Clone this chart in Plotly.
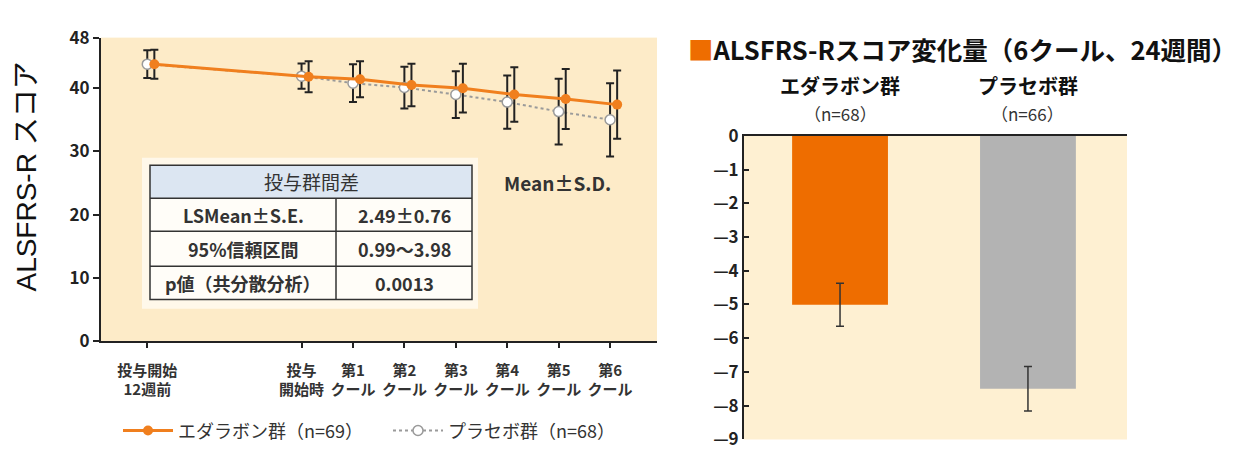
import plotly.graph_objects as go

# ---------------- data ----------------
weeks = [-12, 0, 4, 8, 12, 16, 20, 24]
tick_labels = ["投与開始<br>12週前", "投与<br>開始時", "第1<br>クール", "第2<br>クール",
               "第3<br>クール", "第4<br>クール", "第5<br>クール", "第6<br>クール"]
edaravone_mean = [43.8, 41.8, 41.4, 40.5, 40.0, 39.0, 38.3, 37.4]
edaravone_sd = [2.3, 2.45, 2.85, 3.35, 3.85, 4.3, 4.75, 5.4]
placebo_mean = [43.8, 41.9, 40.8, 40.1, 39.0, 37.8, 36.3, 35.0]
placebo_sd = [2.2, 2.0, 3.0, 3.3, 3.7, 4.2, 5.2, 5.8]
edaravone_name = "エダラボン群（n=69）"
placebo_name = "プラセボ群（n=68）"
y_ticks_left = [0, 10, 20, 30, 40, 48]

table_header = "投与群間差"
table_rows = ["LSMean±S.E.", "95%信頼区間", "p値（共分散分析）"]
table_values = ["2.49±0.76", "0.99〜3.98", "0.0013"]

groups = ["エダラボン群", "プラセボ群"]
group_n = ["（n=68）", "（n=66）"]
change_mean = [-5.01, -7.50]
change_se = [0.64, 0.66]
y_ticks_right = [0, -1, -2, -3, -4, -5, -6, -7, -8, -9]
y_ticktext_right = ["0"] + ["—%d" % abs(v) for v in y_ticks_right[1:]]

# ---------------- helpers ----------------
W, H = 1257, 455
def px(x):
    return x / W
def py(y):
    return 1 - y / H

FONT = "Noto Sans CJK JP"
DARK = "#222222"
ORANGE_LINE = "#F07F1E"
ORANGE_BAR = "#EE6D00"
GRAY_BAR = "#B3B3B3"
BG_LEFT = "#FDEBC8"
BG_RIGHT = "#FEF0D2"

ed_x = [w + 0.55 for w in weeks]

fig = go.Figure()

fig.add_trace(go.Scatter(
    x=weeks, y=placebo_mean, name=placebo_name, mode="lines+markers",
    line=dict(color="#9a9a9a", width=2, dash="dot"),
    marker=dict(size=10, color="white", line=dict(color="#9a9a9a", width=1.5)),
    error_y=dict(type="data", array=placebo_sd, color=DARK, thickness=2, width=4),
    legendrank=2, xaxis="x", yaxis="y", hoverinfo="skip"))

fig.add_trace(go.Scatter(
    x=ed_x, y=edaravone_mean, name=edaravone_name, mode="lines+markers",
    line=dict(color=ORANGE_LINE, width=3),
    marker=dict(size=10, color=ORANGE_LINE),
    error_y=dict(type="data", array=edaravone_sd, color=DARK, thickness=2, width=4),
    legendrank=1, xaxis="x", yaxis="y", hoverinfo="skip"))

fig.add_trace(go.Bar(
    x=[0, 1], y=change_mean, width=0.51,
    marker=dict(color=[ORANGE_BAR, GRAY_BAR], line=dict(width=0)),
    error_y=dict(type="data", array=change_se, color="#333333", thickness=1.5, width=4),
    showlegend=False, xaxis="x2", yaxis="y2", hoverinfo="skip"))

shapes = []
shapes.append(dict(type="rect", xref="paper", yref="paper", layer="below",
                   x0=px(744), x1=px(1127), y0=py(450), y1=py(129),
                   fillcolor=BG_RIGHT, line=dict(width=0)))
shapes.append(dict(type="rect", xref="paper", yref="paper", layer="below",
                   x0=px(142), x1=px(478), y0=py(312), y1=py(152),
                   fillcolor="#FFF8EA", line=dict(width=0)))
shapes.append(dict(type="rect", xref="paper", yref="paper", layer="below",
                   x0=px(150), x1=px(472), y0=py(195), y1=py(160),
                   fillcolor="#DCE6F2", line=dict(width=0)))
shapes.append(dict(type="rect", xref="paper", yref="paper", layer="below",
                   x0=px(150), x1=px(472), y0=py(302), y1=py(195),
                   fillcolor="#FFFDF8", line=dict(width=0)))
shapes.append(dict(type="rect", xref="paper", yref="paper",
                   x0=px(150), x1=px(472), y0=py(302), y1=py(160),
                   fillcolor="rgba(0,0,0,0)", line=dict(color="#333", width=1.5)))
for yy in [195, 230, 267]:
    shapes.append(dict(type="line", xref="paper", yref="paper",
                       x0=px(150), x1=px(472), y0=py(yy), y1=py(yy),
                       line=dict(color="#333", width=1.5)))
shapes.append(dict(type="line", xref="paper", yref="paper",
                   x0=px(336), x1=px(336), y0=py(195), y1=py(302),
                   line=dict(color="#333", width=1.5)))

def ann(x, y, text, size, color="#333", weight="normal", xref="paper", family=FONT,
        xanchor="center", textangle=0):
    return dict(xref=xref, yref="paper", x=x, y=y, text=text, showarrow=False,
                xanchor=xanchor, yanchor="middle", textangle=textangle,
                font=dict(family=family, size=size, color=color, weight=weight))

annotations = []
annotations.append(ann(px(311), py(177), table_header, 19, "#333"))
row_y = [212.5, 248.5, 284.5]
for lab, val, yy in zip(table_rows, table_values, row_y):
    annotations.append(ann(px(243), py(yy), lab, 18, "#333", "bold"))
    annotations.append(ann(px(404), py(yy), val, 18, "#333", "bold"))

annotations.append(ann(px(557), py(178), "Mean±S.D.", 19, "#333", "bold"))

annotations.append(ann(px(27), py(172), "ALSFRS-R スコア", 28, "#111",
                       family="Liberation Sans, " + FONT, textangle=-90))

annotations.append(ann(px(686), py(37),
                       '<span style="color:%s">■</span>ALSFRS-Rスコア変化量（6クール、24週間）' % ORANGE_BAR,
                       25.5, "#111", "bold", xanchor="left"))

for i, (g, n) in enumerate(zip(groups, group_n)):
    annotations.append(ann(i, py(76), g, 20, "#111", "bold", xref="x2"))
    annotations.append(ann(i, py(105), n, 17, "#333", xref="x2"))

fig.update_layout(
    width=W, height=H,
    margin=dict(l=0, r=0, t=0, b=0),
    paper_bgcolor="white", plot_bgcolor=BG_LEFT,
    font=dict(family=FONT, color="#333"),
    showlegend=True,
    legend=dict(orientation="h", x=px(118), y=py(441), xanchor="left", yanchor="middle",
                bgcolor="rgba(0,0,0,0)", font=dict(family=FONT, size=18, color="#333"),
                traceorder="normal", itemwidth=50,
                entrywidth=205, entrywidthmode="pixels"),
    xaxis=dict(domain=[px(101), px(657)], range=[-15.6, 27.65], anchor="y",
               tickmode="array", tickvals=weeks, ticktext=tick_labels,
               ticks="outside", ticklen=5, tickwidth=2, tickcolor=DARK,
               showline=True, linecolor=DARK, linewidth=2,
               showgrid=False, zeroline=False, ticklabelstandoff=10,
               tickfont=dict(family=FONT, size=15, color="#333", weight="bold")),
    yaxis=dict(domain=[py(346), py(25)], range=[0, 48], anchor="x",
               tickmode="array", tickvals=y_ticks_left,
               ticks="outside", ticklen=6, tickwidth=2, tickcolor=DARK,
               showline=True, linecolor=DARK, linewidth=2,
               showgrid=False, zeroline=False,
               tickfont=dict(family=FONT, size=17, color="#222", weight="bold")),
    xaxis2=dict(domain=[px(744), px(1127)], range=[-0.511, 1.527], anchor="y2",
                side="top", showticklabels=False, ticks="",
                showline=True, linecolor=DARK, linewidth=2,
                showgrid=False, zeroline=False),
    yaxis2=dict(domain=[py(450), py(129)], range=[-9, 0], anchor="x2",
                tickmode="array", tickvals=y_ticks_right, ticktext=y_ticktext_right,
                ticks="inside", ticklen=5, tickwidth=1.5, tickcolor=DARK,
                showline=True, linecolor=DARK, linewidth=2,
                showgrid=False, zeroline=False,
                tickfont=dict(family=FONT, size=17, color="#222", weight="bold")),
    shapes=shapes, annotations=annotations,
)

fig.write_html("out.html")
